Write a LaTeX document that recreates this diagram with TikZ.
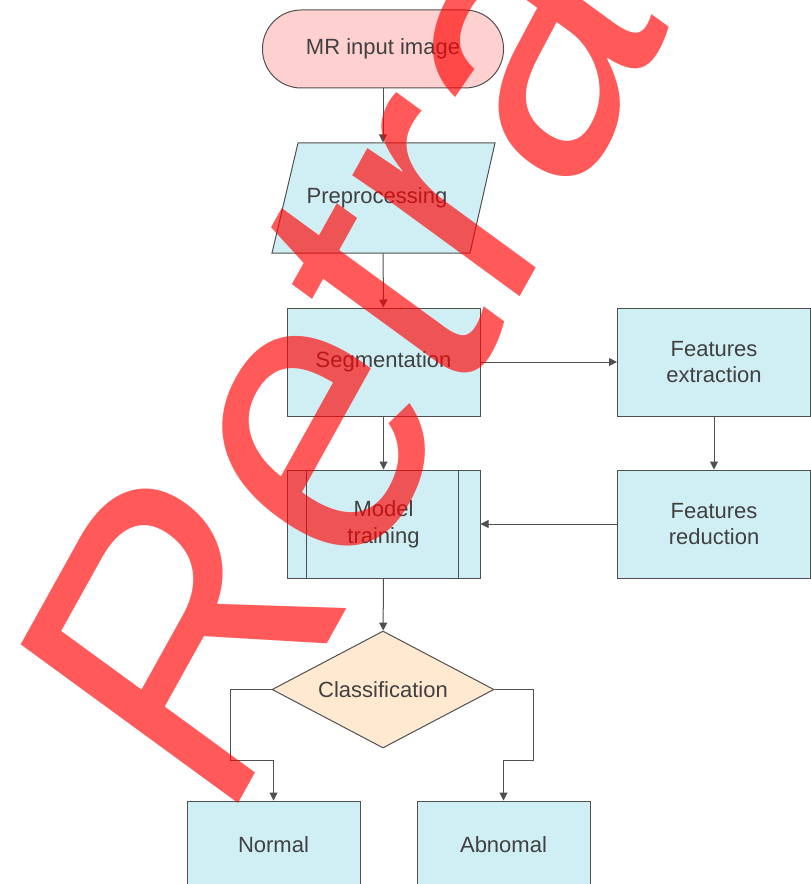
\documentclass[tikz,border=0pt]{standalone}
\usepackage{graphicx}
\usepackage{fontspec}
\setmainfont{Liberation Sans}
\usetikzlibrary{
  shapes.geometric,
  arrows.meta,
}

\definecolor{boxblue}{HTML}{D0EFF4}
\definecolor{boxpink}{HTML}{FFD0D0}
\definecolor{boxtan}{HTML}{FFE9D0}
\definecolor{edgegray}{HTML}{505050}
\definecolor{textgray}{HTML}{404040}

\begin{document}
\begin{tikzpicture}[
  x=0.75pt, y=-0.75pt,
  every flow box/.style={draw=edgegray, line width=0.75pt, fill=boxblue, text=textgray, font=\fontsize{16.5}{20}\selectfont, align=center, inner sep=0pt},
  flow box/.style={every flow box, rectangle, minimum width=144.75pt, minimum height=81pt},
  flow arrow/.style={draw=edgegray, line width=0.75pt, -{Triangle[length=6pt,width=6pt]}},
]
\useasboundingbox (0,0) rectangle (810,884);

\node[every flow box, fill=boxpink, rectangle, rounded corners=29pt, minimum width=180.75pt, minimum height=58.5pt] (input) at (383,49) {MR input image};
\path[every flow box] (298,143) -- (495,143) -- (470,253) -- (272,253) -- cycle;
\node[every flow box, draw=none, fill=none, minimum width=148.5pt, minimum height=82.5pt] (prep) at (383,198) {\hspace*{-9pt}Preprocessing};
\node[flow box] (seg) at (383.5,362) {Segmentation};
\node[flow box] (fext) at (714,362) {Features\\extraction};
\node[flow box] (fred) at (714,524) {Features\\reduction};
\node[flow box] (train) at (383.5,524) {Model\\training};
\foreach \a/\d in {west/15pt, east/-16.5pt}
  \draw[edgegray, line width=0.75pt] ([xshift=\d]train.north \a) -- ([xshift=\d]train.south \a);
\node[every flow box, diamond, aspect=1.9, fill=boxtan, minimum width=166.5pt, minimum height=87.75pt] (cls) at (383,689.5) {Classification};
\node[flow box, minimum width=129.75pt, minimum height=66pt] (normal) at (273.5,845) {Normal};
\node[flow box, minimum width=129.75pt, minimum height=66pt] (abn) at (503.5,845) {Abnomal};

\draw[flow arrow] (input) -- (prep);
\draw[flow arrow] (prep) -- (seg);
\draw[flow arrow] (seg) -- (fext);
\draw[flow arrow] (fext) -- (fred);
\draw[flow arrow] (fred) -- (train);
\draw[flow arrow] (seg) -- (train);
\draw[flow arrow] (train) -- (cls);
\draw[flow arrow] (cls.west) -- ++(-41,0) -- ++(0,71) -| (normal.north);
\draw[flow arrow] (cls.east) -- ++(39,0) -- ++(0,71) -| (abn.north);

\begin{scope}
  \clip (0,0) rectangle (810,884);
  \begin{scope}[shift={(223.5,831)}, yscale=1.146, transform shape]
    \node[text=red, opacity=0.65, rotate=57.5, anchor=base west, inner sep=0pt, font=\fontsize{281}{281}\selectfont] (stamp) at (0,0) {\scalebox{0.907}[1]{Retracted}};
  \end{scope}
\end{scope}
\end{tikzpicture}
\end{document}
